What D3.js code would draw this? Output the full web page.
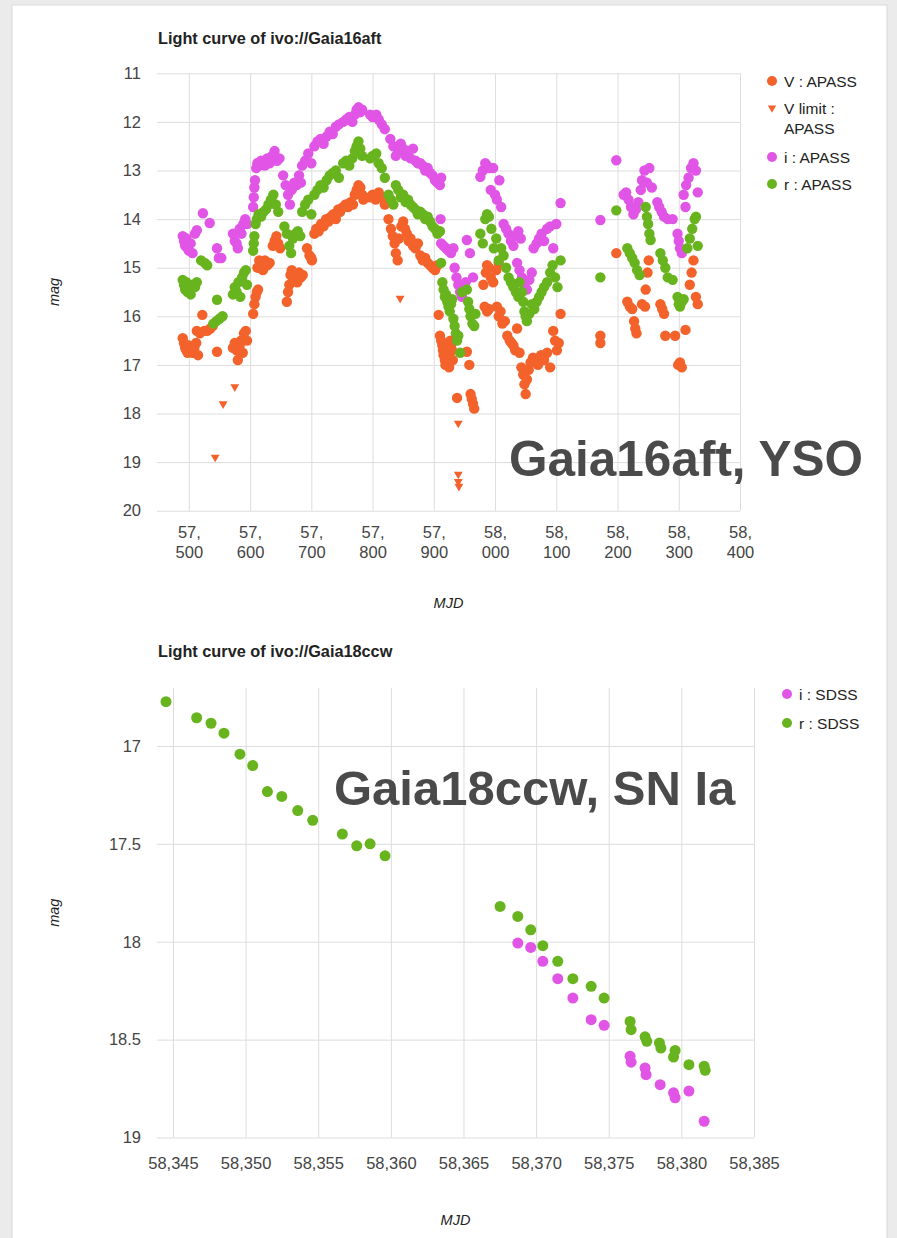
<!DOCTYPE html>
<html><head><meta charset="utf-8">
<script src="https://cdn.jsdelivr.net/npm/d3@7"></script>
<style>
html,body{margin:0;padding:0;background:#ebebeb;}
svg{display:block;font-family:"Liberation Sans",Arial,Helvetica,sans-serif;}
</style></head><body>
<svg id="chart" width="897" height="1238"></svg>
<script>
// ---------- DATA: Gaia16aft (MJD, mag) ----------
const gaia16V = [
[57490,16.45],[57492,16.55],[57494,16.65],[57496,16.7],[57498,16.75],[57500,16.6],[57503,16.7],[57506,16.75],[57509,16.65],[57512,16.55],[57515,16.8],[57513,16.3],[57518,16.35],[57522,15.97],[57525,16.3],[57530,16.3],[57535,16.25],[57539,16.2],
[57546,16.73],
[57572,16.65],[57575,16.55],[57578,16.7],[57580,16.9],[57583,16.6],[57585,16.5],[57588,16.75],[57590,16.35],[57593,16.3],[57595,16.5],
[57605,15.95],[57607,15.75],[57609,15.6],[57611,15.5],[57613,15.45],
[57612,15.0],[57615,14.85],[57618,14.9],[57621,15.05],[57624,14.85],[57628,14.95],[57632,14.9],[57637,14.55],[57640,14.45],[57643,14.35],[57646,14.5],[57649,14.6],
[57660,15.7],[57662,15.5],[57664,15.35],[57666,15.15],[57668,15.05],[57671,15.25],[57674,15.2],[57677,15.3],[57680,15.1],[57683,15.2],[57686,15.15],
[57693,14.6],[57697,14.75],[57701,14.85],[57700,14.8],
[57705,14.3],[57708,14.2],[57712,14.25],[57716,14.1],[57720,14.15],[57724,14.0],[57728,14.05],[57732,13.95],[57736,13.9],[57740,14.0],[57744,13.8],[57747,13.85],
[57752,13.75],[57756,13.7],[57760,13.75],[57764,13.65],[57768,13.7],[57771,13.5],[57774,13.4],[57777,13.3],[57780,13.35],[57783,13.5],[57785,13.6],
[57796,13.55],[57800,13.5],[57805,13.6],[57810,13.45],[57815,13.55],[57820,13.7],
[57826,14.0],[57830,14.2],[57833,14.35],[57836,14.5],[57838,14.7],[57841,14.85],[57843,14.4],[57847,14.15],[57850,14.05],[57853,14.2],[57856,14.3],[57859,14.45],[57862,14.4],[57866,14.55],[57870,14.6],[57874,14.5],
[57878,14.75],[57882,14.85],[57886,14.8],[57890,14.9],[57894,14.95],[57898,15.0],[57902,15.05],[57906,14.95],
[57908,15.97],[57910,16.4],[57912,16.5],[57914,16.6],[57915,16.7],[57916,16.8],[57918,16.9],[57919,17.0],[57920,16.65],[57922,16.75],[57924,16.85],[57925,17.05],[57927,16.5],[57928,16.6],[57930,16.7],[57931,16.9],
[57938,17.68],
[57954,16.73],[57958,17.0],[57960,17.6],[57962,17.7],[57964,17.8],[57966,17.9],
[57981,15.35],[57985,15.1],[57987,14.95],[57990,15.0],[57993,15.2],[57997,15.3],[58002,15.05],[58006,14.9],
[57983,15.8],[57987,15.9],[57990,15.85],
[58003,15.8],[58006,16.0],[58009,15.9],[58012,16.15],[58016,16.1],[58020,16.4],[58024,16.5],[58027,16.55],[58030,16.6],[58033,16.7],[58036,16.25],[58040,16.75],[58043,17.05],[58046,17.2],[58048,17.4],[58050,17.6],[58052,17.3],[58055,17.1],[58058,16.95],[58062,16.85],[58066,16.9],[58070,17.0],[58075,16.8],[58080,16.9],[58085,16.75],[58090,17.05],
[58095,16.3],[58098,16.5],[58101,16.7],[58104,16.55],[58107,15.95],
[58172,16.4],[58172,16.55],
[58198,14.7],
[58216,15.7],[58220,15.8],[58224,15.85],[58227,16.1],[58229,16.25],[58231,16.35],[58240,15.75],[58246,15.45],[58249,15.1],[58251,14.85],[58245,15.8],
[58270,15.75],[58273,15.85],[58276,15.95],[58278,16.4],
[58294,16.4],[58299,17.0],[58302,16.95],[58305,17.05],[58311,16.28],
[58318,15.35],[58321,15.1],[58324,14.85],[58328,15.6],[58331,15.75]
];
const gaia16Vlimit = [
[57543,18.9],[57556,17.8],[57575,17.45],[57845,15.63],[57940,18.2],[57940,19.25],[57940,19.4],[57941,19.5]
];
const gaia16i = [
[57490,14.35],[57492,14.45],[57494,14.55],[57496,14.4],[57498,14.6],[57500,14.65],[57503,14.5],[57506,14.7],[57510,14.3],[57513,14.23],[57523,13.88],[57534,14.08],[57546,14.6],[57549,14.8],[57553,14.8],
[57572,14.3],[57575,14.45],[57578,14.5],[57580,14.6],[57583,14.2],[57586,14.3],[57589,14.1],[57592,14.0],[57595,14.1],
[57605,13.75],[57606,13.55],[57607,13.35],[57608,13.2],[57610,12.95],[57612,12.85],[57615,12.9],[57618,12.8],[57621,12.85],[57624,12.9],[57628,12.75],[57632,12.85],[57636,12.7],[57640,12.6],[57644,12.8],[57648,12.75],
[57654,13.1],[57658,13.3],[57662,13.5],[57665,13.7],[57668,13.4],[57672,13.25],[57676,13.3],[57680,13.1],[57683,13.25],
[57685,12.9],[57690,12.8],[57695,12.65],[57700,12.85],
[57705,12.5],[57710,12.4],[57715,12.35],[57720,12.45],[57725,12.3],[57730,12.2],[57735,12.25],[57740,12.1],[57745,12.05],
[57752,12.0],[57757,11.95],[57762,11.9],[57767,12.0],[57771,11.85],[57774,11.75],[57777,11.7],[57780,11.8],[57783,11.75],
[57796,11.85],[57800,11.9],[57806,11.85],[57810,11.95],[57815,12.05],[57820,12.15],[57829,12.35],
[57834,12.5],[57838,12.7],[57842,12.6],[57846,12.45],[57850,12.55],[57854,12.7],[57858,12.6],[57862,12.75],[57866,12.55],[57870,12.8],[57874,12.85],
[57878,12.85],[57882,12.9],[57886,13.0],[57890,12.95],[57894,13.05],[57898,13.1],[57902,13.2],[57906,13.25],[57910,13.3],[57912,13.15],
[57911,14.0],
[57912,14.5],[57916,14.55],[57920,14.6],[57924,14.65],[57928,14.7],[57932,14.6],
[57934,15.0],[57937,15.2],[57940,15.35],[57943,15.5],[57946,15.6],[57949,15.4],[57952,15.3],
[57954,14.43],[57959,14.7],[57964,15.2],
[57976,13.13],[57980,13.0],[57984,12.85],[57987,12.9],[57990,12.95],[57993,13.4],[57997,12.95],[58000,13.5],[58003,13.6],[58007,13.2],[58010,13.75],
[58014,14.1],[58018,14.2],[58022,14.3],[58026,14.45],[58030,14.55],[58034,14.35],[58038,14.25],[58042,14.4],
[58036,14.9],[58040,15.05],[58044,15.2],[58048,15.35],[58052,15.45],[58056,15.25],[58060,15.1],
[58063,14.6],[58068,14.5],[58072,14.4],[58076,14.3],[58080,14.45],[58085,14.2],[58090,14.15],[58095,14.6],[58100,14.1],
[58107,13.67],
[58172,14.02],
[58198,12.79],
[58210,13.5],[58214,13.45],[58218,13.6],[58222,13.75],[58226,13.9],[58230,13.8],[58234,13.65],[58238,13.4],
[58240,13.2],[58244,13.0],[58248,13.25],[58252,12.95],[58256,13.35],
[58265,13.65],[58268,13.75],[58272,13.85],[58276,13.95],[58282,14.0],[58290,14.0],
[58298,14.3],[58300,14.45],[58302,14.6],[58305,14.7],
[58308,13.5],[58312,13.3],[58316,13.15],[58320,12.95],[58324,12.85],[58328,13.0],[58331,13.45],[58311,13.75]
];
const gaia16r = [
[57490,15.25],[57492,15.35],[57494,15.45],[57496,15.3],[57498,15.5],[57500,15.4],[57503,15.55],[57506,15.35],[57510,15.4],[57513,15.3],
[57520,14.85],[57526,14.9],[57530,14.95],
[57546,15.66],[57540,16.15],[57545,16.1],[57550,16.05],[57555,16.0],
[57572,15.55],[57575,15.4],[57578,15.5],[57581,15.3],[57584,15.6],[57587,15.2],[57590,15.1],[57593,15.05],[57595,15.35],
[57605,14.65],[57606,14.5],[57607,14.35],[57609,14.1],[57611,14.0],[57614,13.9],[57618,13.95],[57622,13.85],[57626,13.8],[57630,13.7],[57634,13.6],[57638,13.5],[57642,13.7],[57646,13.85],
[57656,14.15],[57660,14.3],[57664,14.55],[57667,14.7],[57670,14.4],[57674,14.3],[57678,14.25],[57682,14.35],
[57685,13.85],[57690,13.7],[57695,13.6],[57700,13.9],
[57705,13.5],[57710,13.4],[57715,13.3],[57720,13.35],[57725,13.2],[57730,13.1],[57735,13.05],[57740,13.0],[57745,13.15],
[57752,12.85],[57757,12.8],[57762,12.9],[57767,12.75],[57771,12.6],[57774,12.5],[57777,12.4],[57780,12.55],[57783,12.7],
[57796,12.75],[57800,12.7],[57806,12.65],[57810,12.85],[57815,12.95],[57820,13.15],
[57826,13.5],[57830,13.6],[57834,13.7],[57838,13.3],[57842,13.4],[57846,13.55],[57850,13.5],[57854,13.65],[57858,13.6],[57862,13.7],[57866,13.75],[57870,13.8],[57874,13.9],
[57878,13.85],[57882,13.9],[57886,14.0],[57890,13.95],[57894,14.05],[57898,14.15],[57902,14.2],[57906,14.3],[57910,14.25],
[57912,14.9],[57914,15.3],[57916,15.45],[57918,15.6],[57920,15.55],[57922,15.7],[57924,15.8],[57926,15.9],[57928,15.75],[57930,15.65],[57932,16.05],[57934,16.2],[57936,16.35],[57938,16.5],[57940,16.4],[57943,16.75],[57946,15.5],
[57954,15.45],[57956,15.7],[57958,15.85],[57960,16.0],[57963,16.15],[57966,16.2],[57968,15.95],
[57976,14.3],[57980,14.5],[57984,14.0],[57987,13.9],[57990,13.95],[57994,14.2],[57998,14.6],[58002,14.4],[58006,14.85],
[58010,14.6],[58014,14.75],[58018,15.0],[58022,15.2],[58026,15.3],[58030,15.4],[58034,15.5],[58038,15.6],
[58040,15.3],[58044,15.5],[58046,15.7],[58048,15.9],[58050,16.0],[58052,16.1],[58056,15.95],[58060,15.75],[58064,15.85],[58068,15.7],[58072,15.6],[58076,15.5],[58080,15.4],[58085,15.3],
[58090,15.1],[58094,14.95],[58098,15.2],[58102,15.4],[58107,14.85],
[58172,15.2],
[58198,13.82],
[58216,14.6],[58220,14.7],[58224,14.8],[58228,14.9],[58232,15.05],[58236,15.15],
[58246,13.75],[58248,13.95],[58250,14.1],[58252,14.3],[58254,14.43],
[58270,14.7],[58274,14.85],[58278,15.0],[58282,15.2],[58290,15.25],
[58298,15.6],[58300,15.75],[58302,15.8],[58305,15.7],[58308,15.65],
[58314,14.6],[58318,14.4],[58322,14.2],[58326,14.0],[58328,13.95],[58331,14.55]
];
// ---------- DATA: Gaia18ccw (MJD, mag) ----------
const gaia18i = [
[58368.74,18.007],[58369.63,18.029],[58370.46,18.10],[58371.49,18.189],[58372.53,18.288],[58373.79,18.398],[58374.68,18.427],
[58376.47,18.585],[58376.54,18.615],[58377.50,18.645],[58377.57,18.679],[58378.54,18.730],[58379.46,18.772],[58379.57,18.797],
[58380.52,18.763],[58381.57,18.917]
];
const gaia18r = [
[58344.52,16.774],[58346.63,16.856],[58347.62,16.884],[58348.51,16.935],[58349.61,17.042],[58350.49,17.10],[58351.50,17.233],
[58352.49,17.258],[58353.59,17.33],[58354.62,17.38],[58356.66,17.45],[58357.65,17.51],[58358.57,17.50],[58359.60,17.561],
[58367.52,17.82],[58368.74,17.871],[58369.63,17.939],[58370.46,18.02],[58371.49,18.10],[58372.53,18.189],[58373.79,18.228],
[58374.68,18.288],[58376.47,18.407],[58376.54,18.449],[58377.50,18.486],[58377.62,18.509],[58378.49,18.517],[58378.59,18.543],
[58379.57,18.555],[58379.46,18.589],[58380.52,18.628],[58381.57,18.636],[58381.64,18.657]
];
// ---------- TICKS / LABELS ----------
const top16XTicks = [57500,57600,57700,57800,57900,58000,58100,58200,58300,58400];
const top16YTicks = [11,12,13,14,15,16,17,18,19,20];
const bot18XTicks = [58345,58350,58355,58360,58365,58370,58375,58380,58385];
const bot18YTicks = [17,17.5,18,18.5,19];
const legend16 = [
  {label:["V : APASS"], sym:"circle", color:"V"},
  {label:["V limit :","APASS"], sym:"tri", color:"V"},
  {label:["i : APASS"], sym:"circle", color:"i"},
  {label:["r : APASS"], sym:"circle", color:"r"}
];
const legend18 = [
  {label:["i : SDSS"], sym:"circle", color:"i"},
  {label:["r : SDSS"], sym:"circle", color:"r"}
];
const COLORS = {V:"#f4622b", i:"#e155e6", r:"#68b41f"};

const svg = d3.select("#chart");
svg.append("rect").attr("x",12).attr("y",5).attr("width",875).attr("height",1240)
  .attr("fill","#fff").attr("stroke","#d9d9d9");

const GRID = "#dddddd", TICKTXT = "#444", TXT = "#222";

function drawChart(cfg){
  const g = svg.append("g");
  const x = d3.scaleLinear().domain(cfg.xDomain).range([cfg.left, cfg.right]);
  const y = d3.scaleLinear().domain(cfg.yDomain).range([cfg.top, cfg.bottom]);
  const ya = g.append("g").attr("transform",`translate(${cfg.left},0)`)
    .call(d3.axisLeft(y).tickValues(cfg.yTicks).tickSize(-(cfg.right-cfg.left)).tickPadding(16)
      .tickFormat(d3.format("~g")));
  ya.select(".domain").remove();
  ya.selectAll("line").attr("stroke",GRID);
  ya.selectAll("text").attr("fill",TICKTXT).style("font-size","16.5px").style("font-family","Liberation Sans, Arial");
  const xa = g.append("g").attr("transform",`translate(0,${cfg.bottom})`)
    .call(d3.axisBottom(x).tickValues(cfg.xTicks).tickSize(-(cfg.bottom-cfg.top)).tickPadding(cfg.xPad)
      .tickFormat(d3.format(",")));
  xa.select(".domain").remove();
  xa.selectAll("line").attr("stroke",GRID);
  xa.selectAll("text").attr("fill",TICKTXT).style("font-size","16.5px").style("font-family","Liberation Sans, Arial");
  if (cfg.twoLine){
    xa.selectAll("text").each(function(d){
      const s = d3.format(",")(d).split(",");
      const t = d3.select(this).text(null).attr("dy",null).attr("y",null);
      t.append("tspan").attr("x",0).attr("y",27).text(s[0]+",");
      t.append("tspan").attr("x",0).attr("y",47).text(s[1]);
    });
  }
  g.append("text").attr("x",cfg.left+1).attr("y",cfg.titleY).text(cfg.title)
    .attr("fill",TXT).style("font-weight","bold").style("font-size","16.3px");
  g.append("text").attr("x",(cfg.left+cfg.right)/2).attr("y",cfg.mjdY).attr("text-anchor","middle")
    .style("font-style","italic").style("font-size","14.5px").attr("fill",TXT).text("MJD");
  g.append("text").attr("transform",`translate(59,${(cfg.top+cfg.bottom)/2}) rotate(-90)`).attr("text-anchor","middle")
    .style("font-style","italic").style("font-size","14.5px").attr("fill",TXT).text("mag");
  g.append("text").attr("x",cfg.ann.x).attr("y",cfg.ann.y).text(cfg.ann.text)
    .style("font-weight","bold").style("font-size",cfg.ann.size+"px").attr("fill","#4a4a4a");
  cfg.series.forEach(s=>{
    if (s.sym==="tri"){
      g.append("g").selectAll("path").data(s.data).join("path")
        .attr("d", d3.symbol(d3.symbolTriangle, 34)())
        .attr("transform", d=>`translate(${x(d[0])},${y(d[1])}) rotate(180)`)
        .attr("fill", COLORS[s.color]);
    } else {
      g.append("g").selectAll("circle").data(s.data).join("circle")
        .attr("cx", d=>x(d[0])).attr("cy", d=>y(d[1])).attr("r", cfg.r)
        .attr("fill", COLORS[s.color]);
    }
  });
  const lg = g.append("g");
  cfg.legend.items.forEach((it,k)=>{
    const cy = cfg.legend.ys[k];
    if (it.sym==="tri"){
      lg.append("path").attr("d", d3.symbol(d3.symbolTriangle, 30)())
        .attr("transform",`translate(${cfg.legend.x},${cy}) rotate(180)`).attr("fill",COLORS[it.color]);
    } else {
      lg.append("circle").attr("cx",cfg.legend.x).attr("cy",cy).attr("r",5).attr("fill",COLORS[it.color]);
    }
    it.label.forEach((ln,j)=>{
      lg.append("text").attr("x",cfg.legend.x+cfg.legend.gap).attr("y",cy+5.5+j*20).text(ln)
        .style("font-size","15.5px").attr("fill",TXT);
    });
  });
}

drawChart({
  xDomain:[57448,58400], yDomain:[11,20], left:157, right:740, top:73.3, bottom:510.7,
  xTicks: top16XTicks, yTicks: top16YTicks, xPad: 0, twoLine:true, r:5.2,
  title:"Light curve of ivo://Gaia16aft", titleY:44, mjdY:608,
  ann:{x:509, y:476, size:49.5, text:"Gaia16aft, YSO"},
  series:[
    {data:gaia16V, sym:"circle", color:"V"},
    {data:gaia16Vlimit, sym:"tri", color:"V"},
    {data:gaia16i, sym:"circle", color:"i"},
    {data:gaia16r, sym:"circle", color:"r"}
  ],
  legend:{x:772, gap:12, items:legend16, ys:[81,108,157,184]}
});

drawChart({
  xDomain:[58343.9,58385], yDomain:[16.704,19], left:157, right:754, top:688, bottom:1137.5,
  xTicks: bot18XTicks, yTicks: bot18YTicks, xPad: 20, twoLine:false, r:5.5,
  title:"Light curve of ivo://Gaia18ccw", titleY:657, mjdY:1225,
  ann:{x:334, y:805, size:49, text:"Gaia18ccw, SN Ia"},
  series:[
    {data:gaia18i, sym:"circle", color:"i"},
    {data:gaia18r, sym:"circle", color:"r"}
  ],
  legend:{x:787, gap:12, items:legend18, ys:[694,723]}
});
</script>
</body></html>
